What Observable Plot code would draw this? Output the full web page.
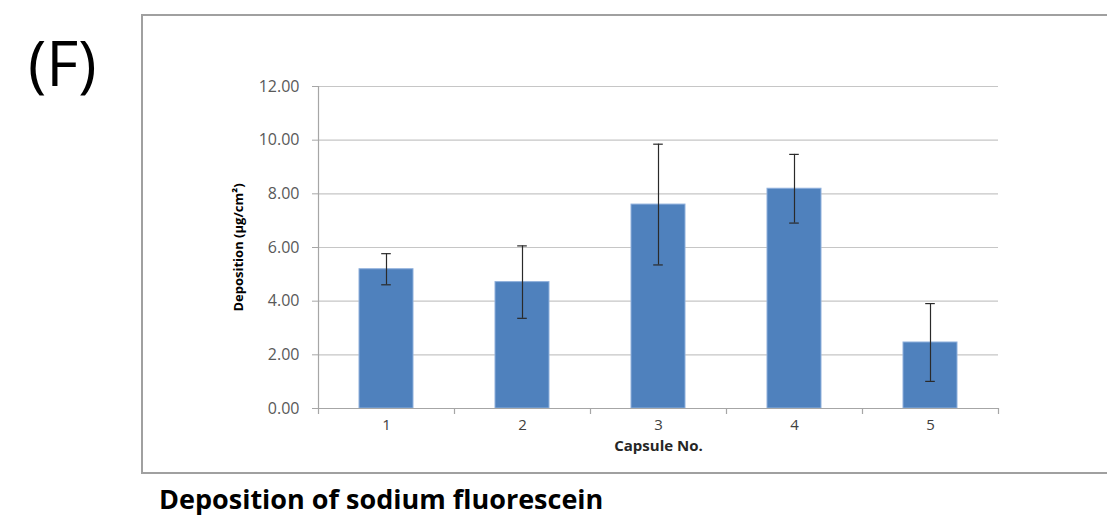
<!DOCTYPE html>
<html>
<head>
<meta charset="utf-8">
<script src="https://cdn.jsdelivr.net/npm/d3@7"></script>
<script src="https://cdn.jsdelivr.net/npm/@observablehq/plot@0.6"></script>
<style>
  html, body { margin: 0; padding: 0; background: #fff; overflow: hidden; }
  body { width: 1107px; height: 516px; position: relative; font-family: "Open Sans", sans-serif; }
  #panel { position: absolute; left: 28px; top: 31px; font-size: 62px; line-height: 1; color: #000; font-family: "Open Sans", sans-serif; }
  #frame { position: absolute; left: 141px; top: 14px; width: 1000px; height: 460px; border: 2px solid #a0a0a0; box-sizing: border-box; }
  #chart { position: absolute; left: 0; top: 0; }
  #caption { position: absolute; left: 159px; top: 485px; font-size: 27px; font-weight: bold; line-height: 1; color: #000; white-space: nowrap; }
</style>
</head>
<body>
<div id="panel">(F)</div>
<div id="frame"></div>
<div id="chart"></div>
<div id="caption">Deposition of sodium fluorescein</div>
<script>
const capsules = ["1", "2", "3", "4", "5"];
const means = [5.19, 4.71, 7.60, 8.19, 2.46];
const sds = [0.58, 1.35, 2.25, 1.28, 1.45];
const yTicks = [0, 2, 4, 6, 8, 10, 12];
const yLabel = "Deposition (µg/cm²)";
const xLabel = "Capsule No.";

const data = capsules.map((c, i) => ({
  capsule: c,
  mean: means[i],
  lo: means[i] - sds[i],
  hi: means[i] + sds[i]
}));

const step = (998 - 318) / capsules.length;
const bandwidth = step * 0.4;
const capInset = bandwidth / 2 - 5;

const chart = Plot.plot({
  width: 1107,
  height: 480,
  marginLeft: 318,
  marginRight: 109,
  marginTop: 86,
  marginBottom: 72,
  style: { background: "transparent", fontFamily: "Open Sans, sans-serif" },
  x: { domain: capsules, paddingInner: 0.6, paddingOuter: 0.3, axis: null },
  y: { domain: [0, 12], axis: null },
  marks: [
    Plot.gridY(yTicks, { stroke: "#c6c6c6", strokeOpacity: 1, strokeWidth: 1.2 }),
    Plot.barY(data, { x: "capsule", y: "mean", fill: "#4f81bd", stroke: "#8fb0dc", strokeWidth: 1 }),
    Plot.ruleX(data, { x: "capsule", y1: "lo", y2: "hi", stroke: "#2a2a2a", strokeWidth: 1.2 }),
    Plot.tickY(data, { x: "capsule", y: "hi", stroke: "#2a2a2a", strokeWidth: 1.2, insetLeft: capInset, insetRight: capInset }),
    Plot.tickY(data, { x: "capsule", y: "lo", stroke: "#2a2a2a", strokeWidth: 1.2, insetLeft: capInset, insetRight: capInset }),
    Plot.frame({ anchor: "left", stroke: "#a6a6a6", strokeWidth: 1.2 }),
    Plot.ruleY([0], { stroke: "#a6a6a6", strokeWidth: 1.2 }),
    Plot.ruleX(capsules, { x: d => d, y1: 0, y2: 0, insetBottom: -6, dx: -step / 2, stroke: "#a6a6a6", strokeWidth: 1.2 }),
    Plot.ruleX(capsules.slice(-1), { x: d => d, y1: 0, y2: 0, insetBottom: -6, dx: step / 2, stroke: "#a6a6a6", strokeWidth: 1.2 }),
    Plot.axisY({ ticks: yTicks, tickFormat: d3.format(".2f"), tickSize: 6, tickPadding: 13, stroke: "#a6a6a6", fill: "#595959", fontSize: 16, label: null }),
    Plot.axisX({ tickSize: 0, tickPadding: 11, fill: "#404040", fontSize: 15, label: null }),
    Plot.text([yLabel], { frameAnchor: "left", dx: -80, rotate: -90, textAnchor: "middle", fontWeight: "bold", fontSize: 13, fill: "#000" }),
    Plot.text([xLabel], { frameAnchor: "bottom", dy: 42, fontWeight: "bold", fontSize: 15, fill: "#262626" })
  ]
});
document.getElementById("chart").appendChild(chart);
</script>
</body>
</html>
